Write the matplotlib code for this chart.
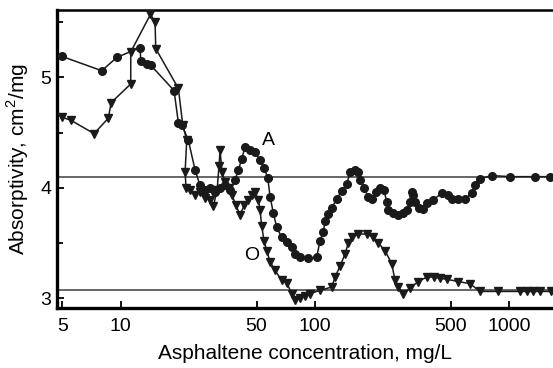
import numpy as np
import matplotlib
matplotlib.use("Agg")
import matplotlib.pyplot as plt
from matplotlib.ticker import FixedLocator, NullLocator

plt.rcParams['font.family'] = ['Liberation Sans', 'DejaVu Sans']
plt.rcParams['mathtext.fontset'] = 'custom'
plt.rcParams['mathtext.rm'] = 'Liberation Sans'

# series A (circles)
conc_a = [4.97, 7.99, 9.54, 12.58, 12.68, 13.61, 14.27, 18.81, 19.79, 20.61,
          22.28, 24.13, 25.59, 27.16, 28.81, 30.57, 32.43, 34.42, 36.50, 38.73,
          40.28, 41.93, 43.61, 46.27, 49.09, 52.08, 54.61, 57.06, 58.64, 60.97,
          63.47, 67.35, 71.46, 75.82, 78.85, 83.65, 92.3, 101.9, 106.0, 110.3,
          112.5, 117.0, 122.2, 129.2, 137.1, 145.4, 151.2, 160.5, 166.3, 170.3,
          178.5, 187.2, 196.3, 205.8, 215.8, 226.2, 233.6, 238.1, 252.6, 268.0,
          284.4, 296.0, 307.8, 314.1, 320.1, 326.6, 342.4, 360.3, 375.1, 405.7,
          448.0, 484.6, 504.4, 545.5, 590.6, 639.3, 664.8, 705.3, 810.4, 1006,
          1353, 1616]
abs_a = [5.19, 5.06, 5.18, 5.27, 5.15, 5.12, 5.11, 4.88, 4.59, 4.57,
         4.43, 4.16, 4.02, 3.98, 4.00, 3.96, 4.00, 4.02, 3.98, 4.07,
         4.16, 4.26, 4.37, 4.34, 4.32, 4.25, 4.18, 4.09, 3.92, 3.77,
         3.64, 3.55, 3.51, 3.46, 3.40, 3.37, 3.36, 3.37, 3.52, 3.60,
         3.70, 3.76, 3.82, 3.90, 3.97, 4.03, 4.14, 4.16, 4.14, 4.07,
         4.00, 3.92, 3.90, 3.96, 4.00, 3.98, 3.87, 3.80, 3.77, 3.75,
         3.77, 3.80, 3.87, 3.96, 3.93, 3.87, 3.82, 3.81, 3.86, 3.89,
         3.95, 3.93, 3.90, 3.90, 3.90, 3.95, 4.02, 4.08, 4.11, 4.10,
         4.10, 4.10]

# series O (triangles)
conc_o = [4.97, 5.55, 7.29, 8.64, 8.92, 11.26, 11.26, 14.22, 15.02, 15.14,
          19.79, 20.85, 21.86, 21.43, 21.68, 22.73, 24.13, 25.59, 27.16, 28.81,
          29.96, 31.31, 32.06, 32.43, 33.21, 34.42, 36.07, 37.37, 39.20, 41.10,
          43.09, 45.19, 47.38, 49.09, 51.05, 52.08, 53.15, 54.61, 56.39, 58.64,
          62.22, 67.35, 71.46, 75.82, 78.85, 83.65, 88.76, 94.19, 106.0, 121.8,
          126.6, 134.4, 142.6, 148.3, 154.3, 166.3, 184.3, 199.3, 211.4, 228.9,
          248.0, 257.8, 268.0, 284.4, 307.8, 339.7, 375.1, 409.0, 439.2, 475.5,
          545.5, 626.6, 705.3, 876.1, 1133, 1226, 1327, 1436, 1636]
abs_o = [4.64, 4.61, 4.49, 4.63, 4.77, 4.94, 5.23, 5.57, 5.50, 5.26,
         4.90, 4.57, 4.43, 4.14, 4.00, 3.98, 3.93, 3.96, 3.91, 3.89,
         3.83, 3.98, 4.20, 4.34, 4.14, 4.05, 4.00, 3.93, 3.84, 3.75,
         3.84, 3.89, 3.93, 3.96, 3.89, 3.80, 3.65, 3.52, 3.43, 3.33,
         3.25, 3.16, 3.14, 3.04, 2.98, 3.00, 3.02, 3.04, 3.07, 3.10,
         3.19, 3.29, 3.40, 3.50, 3.55, 3.58, 3.58, 3.55, 3.50, 3.43,
         3.31, 3.16, 3.10, 3.04, 3.09, 3.15, 3.19, 3.19, 3.18, 3.17,
         3.15, 3.13, 3.06, 3.06, 3.06, 3.06, 3.06, 3.06, 3.06]

ref_levels = [4.1, 3.07]
x_ticks = [5, 10, 50, 100, 500, 1000]
y_ticks = [3, 4, 5]

fig = plt.figure(figsize=(5.53, 3.68), dpi=100)
ax = fig.add_axes([57 / 553, 1 - 308 / 368, 1 - 57 / 553, (308 - 10) / 368])

for lv in ref_levels:
    ax.axhline(lv, color='#5a5a5a', lw=1.3, zorder=1)

ax.plot(conc_a, abs_a, color='#1a1a1a', lw=1.1, marker='o', ms=5.5, zorder=3)
ax.plot(conc_o, abs_o, color='#1a1a1a', lw=1.1, marker='v', ms=6, zorder=3)

ax.text(57.3, 4.43, 'A', fontsize=14, ha='center', va='center')
ax.text(47.3, 3.39, 'O', fontsize=14, ha='center', va='center')

ax.set_xscale('log')
ax.set_xlim(4.7, 1675)
ax.set_ylim(2.91, 5.61)
ax.xaxis.set_major_locator(FixedLocator(x_ticks))
ax.xaxis.set_minor_locator(NullLocator())
ax.set_xticklabels([str(v) for v in x_ticks])
ax.set_yticks(y_ticks)
ax.yaxis.set_minor_locator(FixedLocator([3.5, 4.5, 5.5]))

ax.tick_params(which='both', direction='in', labelsize=14, width=1.3)
ax.tick_params(which='major', length=5)
ax.tick_params(which='minor', length=4)
ax.tick_params(axis='x', pad=7)
ax.tick_params(axis='y', pad=4)

for side in ['left', 'bottom']:
    ax.spines[side].set_linewidth(2.4)
ax.spines['top'].set_linewidth(1.8)
ax.spines['right'].set_visible(False)

ax.set_xlabel('Asphaltene concentration, mg/L', fontsize=15, labelpad=7)
ax.set_ylabel('Absorptivity, cm$^2$/mg', fontsize=15, labelpad=7)

fig.savefig('out.png', dpi=100)
